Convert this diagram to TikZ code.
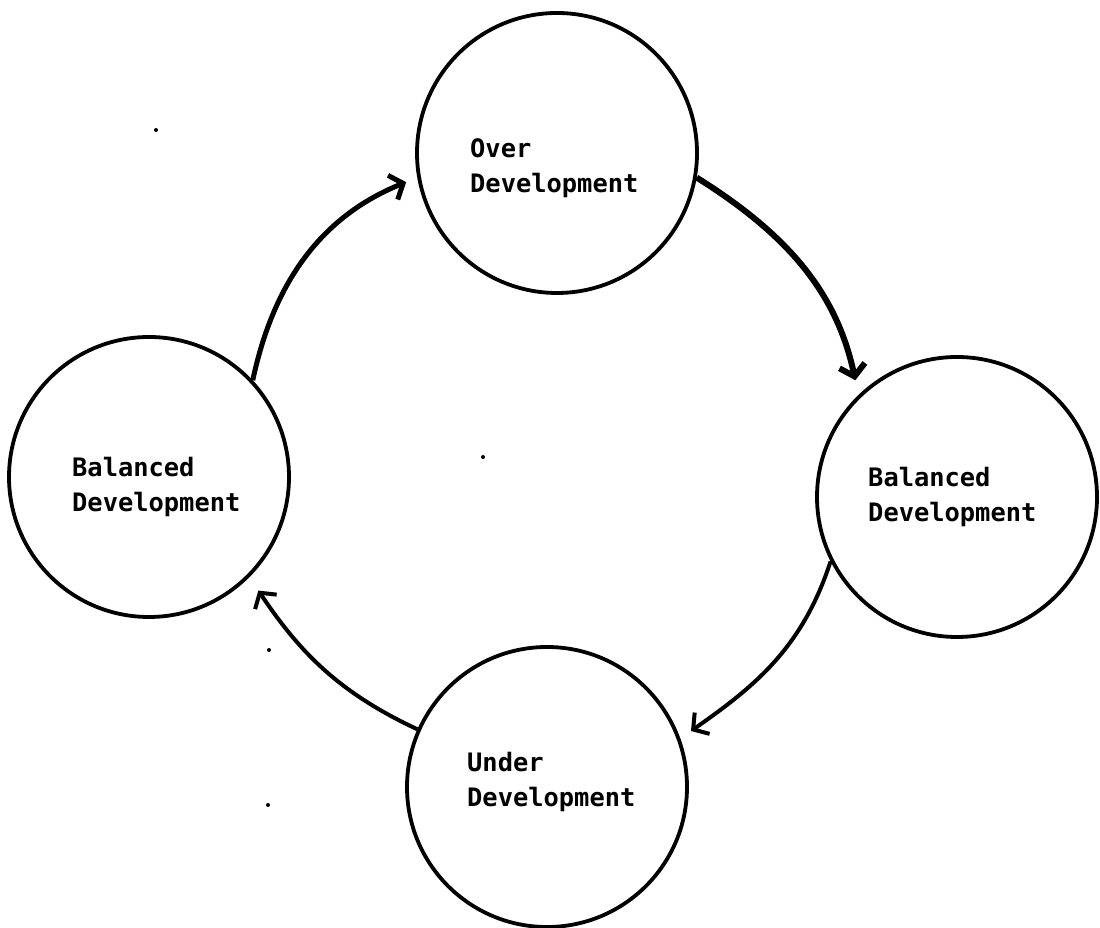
\documentclass[tikz,border=0pt]{standalone}
\usepackage{fontspec}
\setmonofont{DejaVu Sans Mono}
\usetikzlibrary{arrows.meta}
\begin{document}
\begin{tikzpicture}[x=1pt,y=1pt,
  stage/.style={circle,draw,line width=3.8pt,minimum size=280pt,inner sep=0pt},
  lbl/.style={anchor=base west,inner sep=0pt,align=left,
    font=\ttfamily\bfseries\fontsize{25.4}{35}\selectfont},
  flow/.style={line width=4pt,-{Straight Barb[length=11pt,width=26pt]}},
  heavy/.style={flow,line width=6pt},
  speck/.style={fill=black,circle,inner sep=0pt,minimum size=4pt}]
\useasboundingbox (0,0) rectangle (1100,928);
\node[stage] (over) at (557,775) {};
\node[stage] (balr) at (957,431) {};
\node[stage] (under) at (547,141) {};
\node[stage] (ball) at (149,451) {};
\node[lbl] (tover) at (470,735) {Over\\Development};
\node[lbl] (tbalr) at (868,406) {Balanced\\Development};
\node[lbl] (tunder) at (467,121) {Under\\Development};
\node[lbl] (tball) at (72,416) {Balanced\\Development};
\draw[heavy,line width=5pt,shorten >=12pt] (ball.43) to[out=78,in=202] (over.190);
\draw[heavy,shorten >=15pt] (over.-10) to[out=-32,in=102] (balr.134);
\draw[flow,shorten >=13pt] (balr.207) to[out=252,in=35] (under.20);
\draw[flow,shorten >=16pt] (under.156) to[out=155,in=-56] (ball.-45);
\node[speck] (d1) at (483,471) {};
\node[speck] (d2) at (269,278) {};
\node[speck] (d3) at (156,798) {};
\node[speck] (d4) at (268,123) {};
\end{tikzpicture}
\end{document}
